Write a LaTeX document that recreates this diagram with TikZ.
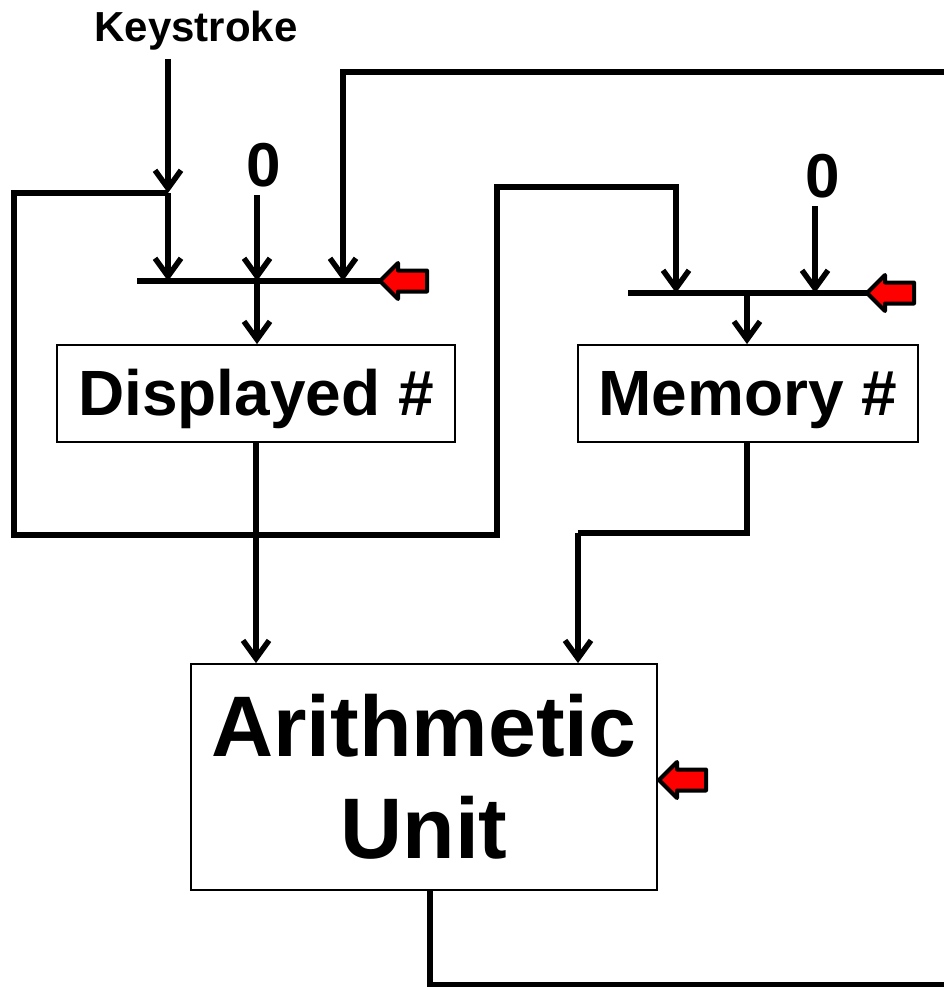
\documentclass[tikz,border=0pt]{standalone}
\usepackage{fontspec}
\setmainfont{Liberation Sans}
\usetikzlibrary{arrows.meta}

\begin{document}
\begin{tikzpicture}[x=1pt, y=-1pt,
	line/.style={line width=5.5pt},
	arr/.style={line, -{Straight Barb[length=18pt,width=26pt]}},
	box/.style={draw, line width=1.8pt, inner sep=0pt, text height=70pt, text depth=27pt, font={\bfseries\fontsize{64}{70}\selectfont}},
	lbl/.style={inner sep=8pt, font={\bfseries\fontsize{62}{70}\selectfont}},
	ctl/.pic={\draw[line width=4pt, line join=round, fill=red] (0,0) -- (18,-18) -- (18,-10.5) -- (47,-10.5) -- (47,10.5) -- (18,10.5) -- (18,18) -- cycle;}]
% Rahmen
\useasboundingbox (0,0) rectangle (944,987);
\clip (0,0) rectangle (944,987);

% Bloecke
\node[box, minimum width=398pt] (disp) at (256,393.5) {Displayed \#};
\node[box, minimum width=340pt] (mem) at (748,393.5) {Memory \#};
\node[draw, line width=1.8pt, inner sep=0pt, minimum width=466pt, minimum height=226pt, align=center, font={\bfseries\fontsize{86}{102}\selectfont}] (au) at (424,777) {Arithmetic\\Unit};

% Eingaenge
\node[lbl, font={\bfseries\fontsize{42}{50}\selectfont}] (key) at (196,31) {Keystroke};
\node[lbl] (zeroA) at (264,165) {0};
\node[lbl] (zeroB) at (823,176) {0};

% Bus Anzeige
\coordinate (busAl) at (137,281);
\coordinate (busAr) at (380,281);
\coordinate (kj) at (168,193);
\coordinate (inA2) at (257,281);
\coordinate (inA3) at (343,281);
\draw[line] (busAl) -- (busAr);
\draw[arr] (key.south -| kj) -- (kj);
\draw[arr] (kj) -- (kj |- busAl);
\draw[arr] (zeroA.south -| inA2) -- (inA2);
\draw[arr] (inA2) -- (disp.north -| inA2);

% Bus Speicher
\coordinate (busBl) at (628,293);
\coordinate (busBr) at (867,293);
\coordinate (inB1) at (676,293);
\coordinate (inB2) at (815,293);
\coordinate (outB) at (747,293);
\draw[line] (busBl) -- (busBr);
\draw[arr] (zeroB.south -| inB2) -- (inB2);
\draw[arr] (outB) -- (mem.north -| outB);

% Rueckfuehrungen
\draw[arr] (kj) -| (14,535) -| (497,187) -| (inB1);
\coordinate (ret) at (430,985);
\draw[arr] (ret |- au.south) -- (ret) -- (975,985) |- (343,72) -- (inA3);

% Zum Rechenwerk
\coordinate (auinB) at (578,533);
\draw[line] (mem.south -| outB) |- (auinB);
\draw[arr] (auinB) -- (auinB |- au.north);
\draw[arr] (disp.south) -- (disp.south |- au.north);

% Steuerpfeile
\pic at (busAr) {ctl};
\pic at (busBr) {ctl};
\pic at (659,780) {ctl};
\end{tikzpicture}
\end{document}
